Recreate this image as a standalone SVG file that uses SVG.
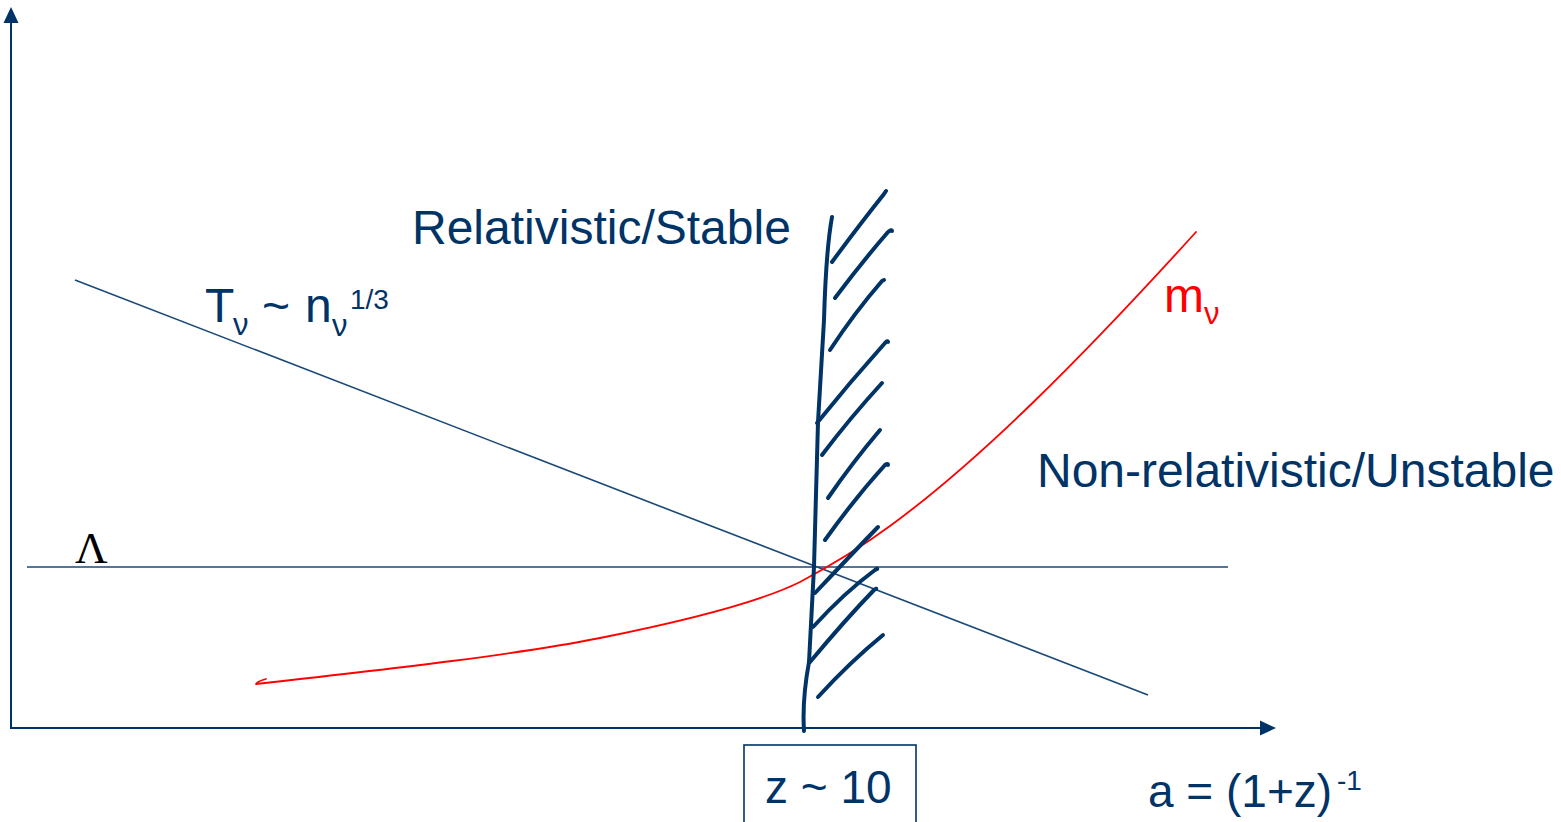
<svg xmlns="http://www.w3.org/2000/svg" width="1561" height="822" viewBox="0 0 1561 822">
<style>
.ax{stroke:#003366;stroke-width:2;fill:none}
.ln{stroke:#1a4878;stroke-width:1.6;fill:none}
.red{stroke:#ff0000;stroke-width:1.8;fill:none;stroke-linejoin:round;stroke-linecap:round}
.hat{stroke:#003366;stroke-width:4;fill:none;stroke-linecap:round;stroke-linejoin:round}
.t{font-family:"Liberation Sans",Arial,sans-serif;fill:#003366}
.r{font-family:"Liberation Sans",Arial,sans-serif;fill:#ff0000}
</style>
<defs>
<marker id="arr" viewBox="0 0 16 16" refX="0" refY="8" markerWidth="16" markerHeight="16" markerUnits="userSpaceOnUse" orient="auto">
<path d="M0,0.5 L16,8 L0,15.5 Z" fill="#003366"/>
</marker>
</defs>
<rect width="1561" height="822" fill="#ffffff"/>
<g id="connectors">
<line class="ax" x1="11" y1="729" x2="11" y2="23" marker-end="url(#arr)"/>
<line class="ax" x1="10" y1="728" x2="1260" y2="728" marker-end="url(#arr)"/>
<line class="ln" x1="27" y1="567" x2="1228" y2="567"/>
<line class="ln" x1="75" y1="280" x2="1148" y2="695"/>
<path class="red" d="M266,679 Q256,682 256,684 C400,668 520,654 600,638 C680,622 760,602 800,582 C830,566 860,548 890,526 C980,460 1080,360 1196,232"/>
</g>
<g id="hatch">
<path class="hat" d="M832,217 Q826,250 824,320 L818,422 L814,567 L809,662 Q802,700 804,731"/>
<path class="hat" d="M832,262 Q860,224 884,194 L886,191"/>
<path class="hat" d="M835,298 Q862,262 888,232 Q892,229 892,231"/>
<path class="hat" d="M830,350 Q855,312 882,281 L884,280"/>
<path class="hat" d="M817,423 Q850,382 885,343 Q888,340 888,342"/>
<path class="hat" d="M822,455 Q850,418 882,383"/>
<path class="hat" d="M828,498 Q852,463 880,430"/>
<path class="hat" d="M825,540 Q855,498 885,465 Q888,463 888,465"/>
<path class="hat" d="M815,593 Q848,558 878,527"/>
<path class="hat" d="M813,627 Q845,592 875,570 Q878,568 877,569"/>
<path class="hat" d="M810,662 Q845,620 874,590 Q877,588 876,589"/>
<path class="hat" d="M818,697 Q850,662 883,635"/>
</g>
<g id="label-relativistic"><text class="t" x="412" y="244" font-size="48">Relativistic/Stable</text></g>
<g id="label-nonrel"><text class="t" x="1037" y="487" font-size="48">Non-relativistic/Unstable</text></g>
<g id="label-T">
<text class="t" font-size="48" y="322"><tspan x="205">T</tspan><tspan x="233" y="335" font-size="31">ν</tspan><tspan x="262" y="322">~</tspan><tspan x="305" y="322">n</tspan><tspan x="332" y="336" font-size="31">ν</tspan><tspan x="350" y="309" font-size="28">1/3</tspan></text>
</g>
<g id="label-m">
<text class="r" font-size="48" y="312"><tspan x="1164">m</tspan><tspan x="1204" y="324" font-size="31">ν</tspan></text>
</g>
<g id="label-lambda"><text x="75" y="563" font-size="45" font-family="'Liberation Serif','Times New Roman',serif" fill="#000000">Λ</text></g>
<g id="label-z">
<rect x="744" y="745" width="172" height="90" fill="none" stroke="#003366" stroke-width="1.6"/>
<text class="t" x="765" y="803" font-size="46">z ~ 10</text>
</g>
<g id="label-a">
<text class="t" font-size="46" y="807"><tspan x="1148">a = (1+z)</tspan><tspan x="1337" y="790" font-size="28">-1</tspan></text>
</g>
</svg>
